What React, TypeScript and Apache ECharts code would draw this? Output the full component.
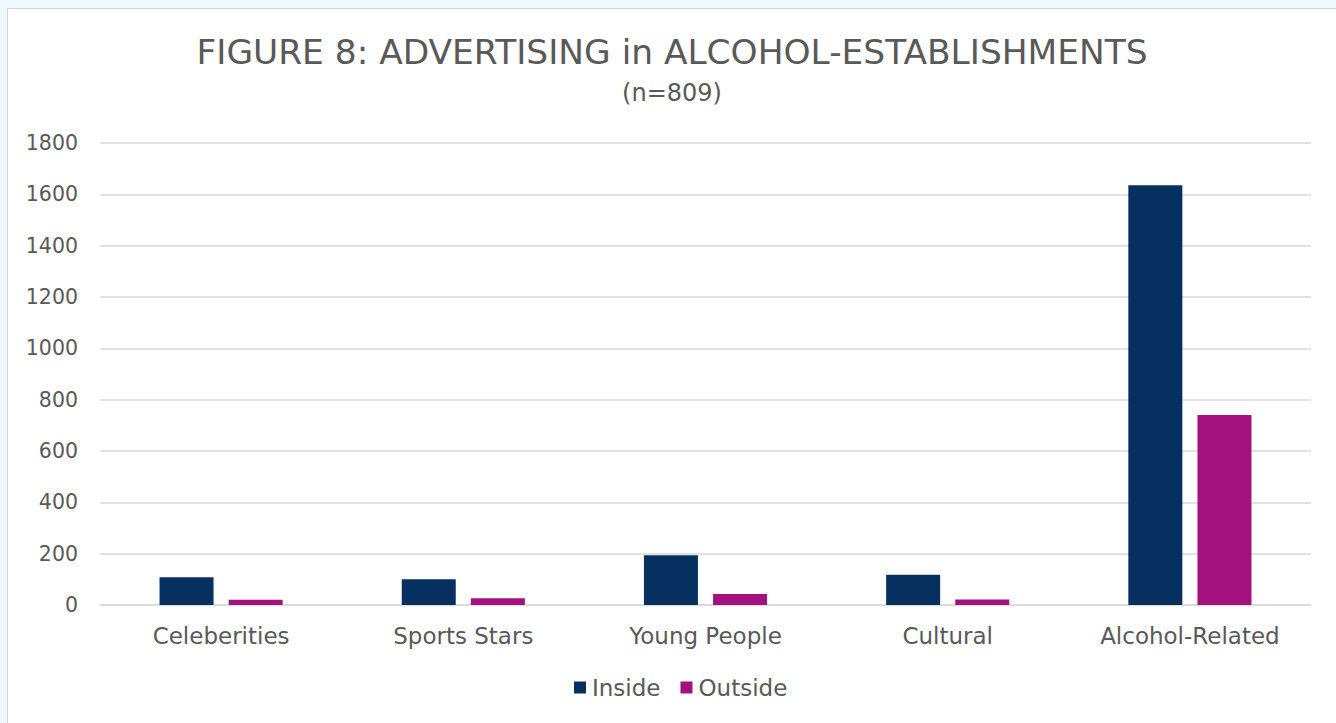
import React, { useEffect, useRef } from "react";
import * as echarts from "echarts";

const categories = ["Celeberities", "Sports Stars", "Young People", "Cultural", "Alcohol-Related"];
const insideValues = [108, 100, 194, 118, 1635];
const outsideValues = [20, 26, 43, 21, 740];
const titleText = "FIGURE 8: ADVERTISING in ALCOHOL-ESTABLISHMENTS";
const subtitleText = "(n=809)";

const FONT = "'DejaVu Sans', sans-serif";
const TEXT_COLOR = "#595959";

export default function App() {
  const ref = useRef<HTMLDivElement>(null);
  useEffect(() => {
    if (!ref.current) return;
    const chart = echarts.init(ref.current, undefined, { renderer: "svg" });
    chart.setOption({
      animation: false,
      backgroundColor: "#ffffff",
      title: {
        text: titleText,
        subtext: subtitleText,
        left: "center",
        top: 21,
        itemGap: 12,
        textStyle: { fontFamily: FONT, fontSize: 34.4, fontWeight: "normal", color: TEXT_COLOR },
        subtextStyle: { fontFamily: FONT, fontSize: 24, color: TEXT_COLOR },
      },
      legend: {
        bottom: 19,
        left: 561,
        itemWidth: 12,
        itemHeight: 12,
        itemGap: 20,
        icon: "rect",
        textStyle: { fontFamily: FONT, fontSize: 23, color: TEXT_COLOR, padding: [0, 0, 0, 1] },
        data: ["Inside", "Outside"],
      },
      grid: { left: 92, right: 25, top: 134, bottom: 118 },
      xAxis: {
        type: "category",
        data: categories,
        axisTick: { show: false },
        axisLine: { lineStyle: { color: "#d9d9d9", width: 1.5 } },
        axisLabel: { fontFamily: FONT, fontSize: 23, color: TEXT_COLOR, margin: 19 },
      },
      yAxis: {
        type: "value",
        min: 0,
        max: 1800,
        interval: 200,
        axisLine: { show: false },
        axisTick: { show: false },
        splitLine: { lineStyle: { color: "#d9d9d9", width: 1.5 } },
        axisLabel: {
          fontFamily: FONT,
          fontSize: 20.5,
          color: TEXT_COLOR,
          margin: 22,
          formatter: (v: number) => String(v),
        },
      },
      series: [
        {
          name: "Inside",
          type: "bar",
          data: insideValues,
          barWidth: 54,
          barGap: "28%",
          itemStyle: { color: "#063060" },
        },
        {
          name: "Outside",
          type: "bar",
          data: outsideValues,
          barWidth: 54,
          itemStyle: { color: "#a3117f" },
        },
      ],
    });
    return () => chart.dispose();
  }, []);

  return (
    <div style={{ position: "fixed", left: 0, top: 0, width: 1336, height: 723, background: "#eef8fd", overflow: "hidden" }}>
      <div
        style={{
          position: "absolute",
          left: 7,
          top: 8,
          width: 1340,
          height: 720,
          border: "1px solid #d4d4d4",
          background: "#ffffff",
        }}
      >
        <div ref={ref} style={{ width: 1328, height: 714 }} />
      </div>
    </div>
  );
}
